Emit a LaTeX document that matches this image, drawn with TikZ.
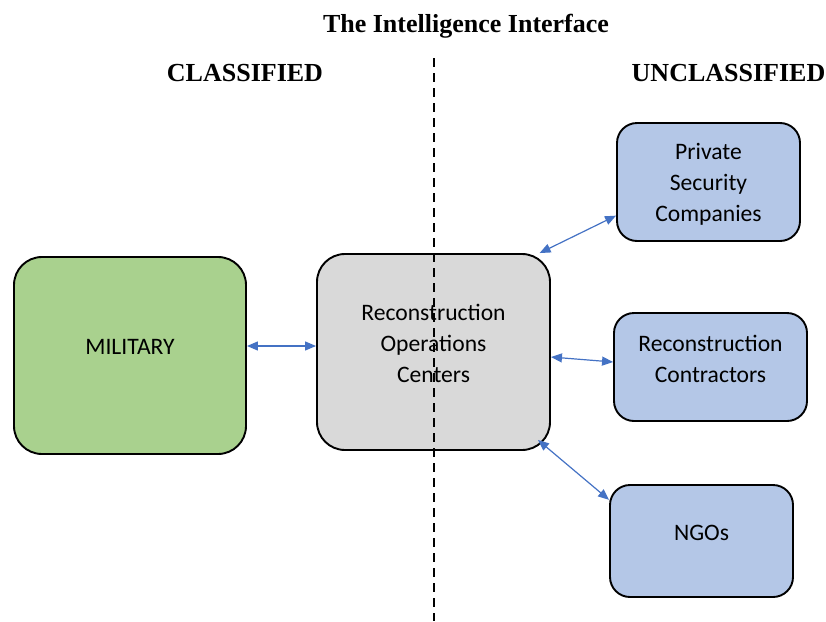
\documentclass[tikz,border=0pt]{standalone}
\usepackage{fontspec}
\setmainfont{Carlito}
\newfontfamily\headfont{Liberation Serif}
\usetikzlibrary{arrows.meta,positioning}

\definecolor{milgreen}{HTML}{A9D18E}
\definecolor{rocgrey}{HTML}{D9D9D9}
\definecolor{civblue}{HTML}{B4C7E7}
\definecolor{linkblue}{HTML}{4472C4}

\tikzset{
  box/.style={draw=black,line width=1.9pt,align=center,text depth=17pt,
    font=\fontsize{23.6}{31}\selectfont},
  bigbox/.style={box,rounded corners=28pt},
  smallbox/.style={box,rounded corners=20pt},
  heading/.style={anchor=base,font=\headfont\bfseries\fontsize{26}{30}\selectfont},
  link/.style={draw=linkblue,line width=1.2pt,
    {Triangle[length=11pt,width=9pt]}-{Triangle[length=11pt,width=9pt]}},
  divider/.style={draw=black,line width=2pt,dash pattern=on 9pt off 6pt}
}

\begin{document}
\begin{tikzpicture}[x=1pt,y=-1pt]
\useasboundingbox (0,0) rectangle (826,621);
\begin{scope}[]
  % headings
  \node[heading] (title) at (466,32.7) {The Intelligence Interface};
  \node[heading] (classified) at (245,81) {CLASSIFIED};
  \node[heading] (unclassified) at (728.5,81) {UNCLASSIFIED};

  % boxes
  \node[bigbox,fill=milgreen,minimum width=232pt,minimum height=197pt]
    (mil) at (130,355.5) {MILITARY};
  \node[bigbox,fill=rocgrey,minimum width=233pt,minimum height=196pt]
    (roc) at (433.5,352) {Reconstruction\\Operations\\Centers};
  \node[smallbox,fill=civblue,minimum width=183pt,minimum height=118pt,text depth=-4pt]
    (priv) at (708.5,182) {Private\\Security\\Companies};
  \node[smallbox,fill=civblue,minimum width=193pt,minimum height=108pt]
    (contr) at (710.5,367) {Reconstruction\\Contractors};
  \node[smallbox,fill=civblue,minimum width=183pt,minimum height=112pt]
    (ngo) at (701.5,541) {NGOs};

  % classification line
  \coordinate (linetop) at (434,58);
  \coordinate (linebottom) at (434,621);
  \draw[divider] (linetop) -- (linebottom);

  % links
  \draw[link] ([yshift=9.5pt]mil.east) -- ([yshift=6pt]roc.west);
  \draw[link] (roc.43) -- (priv.200);
  \draw[link] ([yshift=-5pt]roc.east) -- ([yshift=5pt]contr.west);
  \draw[link] ([shift={(-13pt,11pt)}]roc.south east) -- (ngo.156);
\end{scope}
\end{tikzpicture}
\end{document}
